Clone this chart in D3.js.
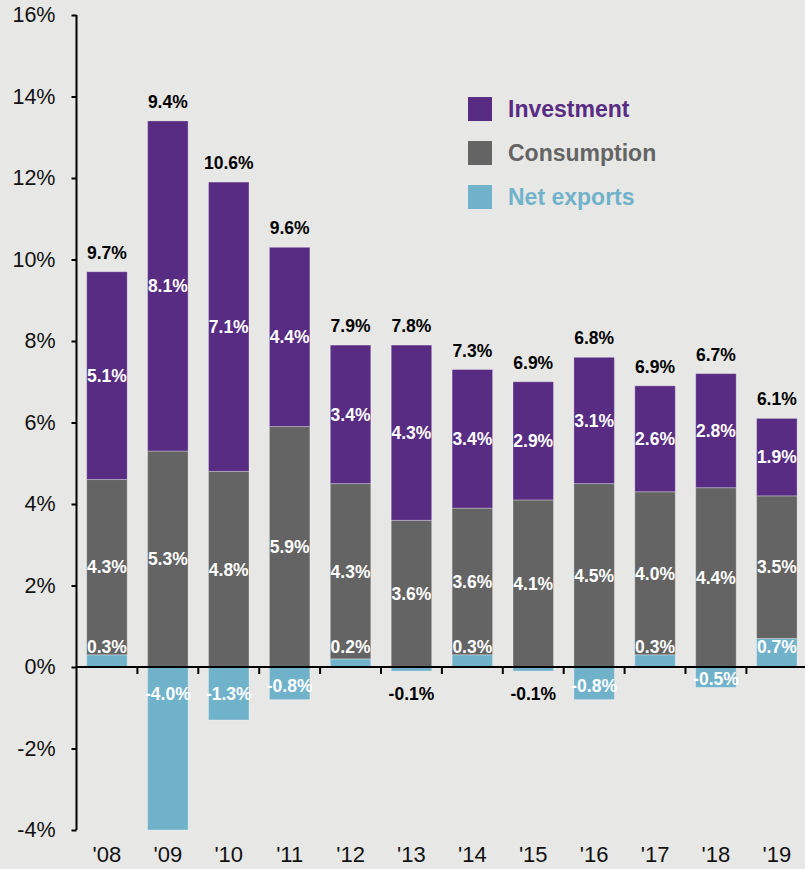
<!DOCTYPE html>
<html>
<head>
<meta charset="utf-8">
<script src="https://cdn.jsdelivr.net/npm/d3@7/dist/d3.min.js"></script>
<style>
  html, body { margin: 0; padding: 0; background: #E7E7E5; }
  svg { display: block; font-family: "Liberation Sans", Arial, sans-serif; }
</style>
</head>
<body>
<svg id="chart" width="805" height="869"></svg>
<script>
const years = ["'08","'09","'10","'11","'12","'13","'14","'15","'16","'17","'18","'19"];
const gdp = [9.7, 9.4, 10.6, 9.6, 7.9, 7.8, 7.3, 6.9, 6.8, 6.9, 6.7, 6.1];
const investment = [5.1, 8.1, 7.1, 4.4, 3.4, 4.3, 3.4, 2.9, 3.1, 2.6, 2.8, 1.9];
const consumption = [4.3, 5.3, 4.8, 5.9, 4.3, 3.6, 3.6, 4.1, 4.5, 4.0, 4.4, 3.5];
const netExports = [0.3, -4.0, -1.3, -0.8, 0.2, -0.1, 0.3, -0.1, -0.8, 0.3, -0.5, 0.7];
const yTicks = [-4, -2, 0, 2, 4, 6, 8, 10, 12, 14, 16];
const seriesNames = ["Investment", "Consumption", "Net exports"];

const colors = { inv: "#582C83", con: "#646464", net: "#71B2CB" };
const legendColors = [colors.inv, colors.con, colors.net];

const svg = d3.select("#chart");
const W = 805, H = 869;
svg.append("rect").attr("width", W).attr("height", H).attr("fill", "#E7E7E5");

const x = d3.scaleBand().domain(years).range([76.5, 807.3]).paddingInner(0.335).paddingOuter(0.1675);
const y = d3.scaleLinear().domain([-4, 16]).range([830, 15]);

const fmt = v => v.toFixed(1) + "%";

const rows = years.map((yr, i) => {
  const n = netExports[i], c = consumption[i], inv = investment[i];
  const base = Math.max(n, 0);
  return {
    yr, gdp: gdp[i], n, c, inv,
    n0: Math.min(n, 0), n1: Math.max(n, 0),
    c0: base, c1: base + c,
    i0: base + c, i1: base + c + inv
  };
});

const g = svg.append("g");

function seg(cls, y0key, y1key, color) {
  g.selectAll("rect." + cls).data(rows).join("rect")
    .attr("class", cls)
    .attr("x", d => x(d.yr))
    .attr("width", x.bandwidth())
    .attr("y", d => y(d[y1key]))
    .attr("height", d => Math.max(0, y(d[y0key]) - y(d[y1key])))
    .attr("fill", color)
    .attr("stroke", "rgba(255,255,255,0.3)")
    .attr("stroke-width", 1);
}
seg("net", "n0", "n1", colors.net);
seg("con", "c0", "c1", colors.con);
seg("inv", "i0", "i1", colors.inv);

// Y axis
const yAxis = d3.axisLeft(y).tickValues(yTicks).tickFormat(d => d + "%").tickSize(5).tickPadding(16);
const ya = svg.append("g").attr("transform", "translate(76.5,0)").call(yAxis);
ya.select(".domain").attr("stroke", "#000").attr("stroke-width", 2).attr("d", `M0,${y(16)}V${y(-4)}`);
ya.selectAll(".tick line").attr("stroke", "#000").attr("stroke-width", 2);
ya.selectAll(".tick text").attr("font-size", 21.5).attr("fill", "#111").attr("font-family", "Liberation Sans, Arial, sans-serif");

// X axis line at zero with ticks at band boundaries
const step = x.step();
const bounds = years.map((d, i) => x(d) - (step - x.bandwidth()) / 2);
const xa = svg.append("g");
xa.append("line").attr("x1", 76.5).attr("x2", W).attr("y1", y(0)).attr("y2", y(0))
  .attr("stroke", "#000").attr("stroke-width", 2);
xa.selectAll("line.tk").data(bounds.slice(1)).join("line").attr("class", "tk")
  .attr("x1", d => d).attr("x2", d => d).attr("y1", y(0)).attr("y2", y(0) + 7)
  .attr("stroke", "#000").attr("stroke-width", 2);

// X labels
svg.selectAll("text.xl").data(years).join("text").attr("class", "xl")
  .attr("x", d => x(d) + x.bandwidth() / 2).attr("y", 862)
  .attr("text-anchor", "middle").attr("font-size", 22).attr("fill", "#111")
  .text(d => d);

// Labels
const lab = svg.append("g").attr("font-weight", "bold").attr("font-size", 17.5).attr("text-anchor", "middle");
const cx = d => x(d.yr) + x.bandwidth() / 2;

lab.selectAll("text.tot").data(rows).join("text").attr("class", "tot")
  .attr("x", cx).attr("y", d => y(d.i1) - 13).attr("fill", "#000").text(d => fmt(d.gdp));

lab.selectAll("text.il").data(rows).join("text").attr("class", "il")
  .attr("x", cx).attr("y", d => (y(d.i0) + y(d.i1)) / 2).attr("dy", "0.36em")
  .attr("fill", "#fff").text(d => fmt(d.inv));

lab.selectAll("text.cl").data(rows).join("text").attr("class", "cl")
  .attr("x", cx).attr("y", d => (y(d.c0) + y(d.c1)) / 2).attr("dy", "0.36em")
  .attr("fill", "#fff").text(d => fmt(d.c));

lab.selectAll("text.nl").data(rows).join("text").attr("class", "nl")
  .attr("x", cx)
  .attr("y", d => {
    if (d.n >= 0) return y(0.5);
    if (Math.abs(d.n) < 0.25) return y(-0.65);
    return Math.min((y(0) + y(d.n)) / 2 + 2, y(-0.65));
  })
  .attr("dy", "0.36em")
  .attr("fill", d => (d.n < 0 && Math.abs(d.n) < 0.25) ? "#000" : "#fff")
  .text(d => fmt(d.n));

// Legend
const leg = svg.append("g").attr("transform", "translate(468,97)");
seriesNames.forEach((name, i) => {
  const row = leg.append("g").attr("transform", `translate(0,${i * 44})`);
  row.append("rect").attr("width", 24).attr("height", 24).attr("fill", legendColors[i]);
  row.append("text").attr("x", 40).attr("y", 12).attr("dy", "0.36em")
    .attr("font-size", 23).attr("font-weight", "bold").attr("fill", legendColors[i]).text(name);
});
</script>
</body>
</html>
